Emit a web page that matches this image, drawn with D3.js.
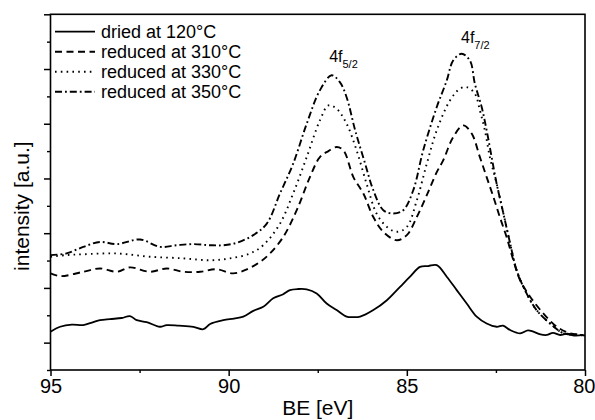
<!DOCTYPE html>
<html>
<head>
<meta charset="utf-8">
<script src="https://d3js.org/d3.v7.min.js"></script>
<style>
  body { margin: 0; background: #fff; }
  svg { display: block; font-family: "Liberation Sans", Arial, sans-serif; }
</style>
</head>
<body>
<svg id="chart" width="595" height="420"></svg>
<script>
// ---- data (BE [eV], intensity [a.u.]) ----
const seriesNames = ["dried at 120°C", "reduced at 310°C", "reduced at 330°C", "reduced at 350°C"];

const dried120 = [
  [95.0,1.40],[94.73,1.58],[94.4,1.66],[94.08,1.64],[93.8,1.75],[93.61,1.82],[93.33,1.86],[93.0,1.90],
  [92.77,1.97],[92.58,1.82],[92.3,1.75],[91.93,1.58],[91.74,1.64],[91.4,1.62],[90.99,1.58],[90.71,1.49],
  [90.52,1.68],[90.15,1.82],[89.85,1.88],[89.59,1.95],[89.31,2.16],[89.03,2.31],[88.75,2.62],[88.47,2.77],
  [88.28,2.92],[88.05,2.96],[87.81,2.95],[87.53,2.80],[87.25,2.43],[86.97,2.19],[86.69,1.95],[86.5,1.93],
  [86.31,1.95],[85.94,2.19],[85.56,2.55],[85.19,3.04],[84.91,3.41],[84.63,3.77],[84.4,3.80],[84.16,3.83],
  [83.88,3.41],[83.60,2.92],[83.32,2.43],[83.04,1.95],[82.76,1.70],[82.48,1.58],[82.3,1.62],[82.10,1.46],
  [81.82,1.34],[81.6,1.45],[81.45,1.40],[81.25,1.30],[81.07,1.28],[80.9,1.36],[80.70,1.28],[80.5,1.33],
  [80.3,1.26],[80.05,1.28]
];

const red310 = [
  [95.0,3.53],[94.73,3.43],[94.08,3.59],[93.61,3.71],[93.14,3.59],[92.77,3.75],[92.21,3.59],[91.74,3.71],
  [91.27,3.59],[90.80,3.59],[90.34,3.68],[89.87,3.53],[89.49,3.68],[89.12,3.95],[88.84,4.26],[88.47,4.86],
  [88.09,5.84],[87.72,7.05],[87.44,7.78],[87.2,8.0],[86.97,8.15],[86.78,8.03],[86.50,7.05],[86.22,6.45],
  [85.94,5.59],[85.66,5.05],[85.28,4.74],[85.00,4.93],[84.72,5.59],[84.44,6.39],[84.16,7.23],[83.98,7.66],
  [83.70,8.51],[83.42,8.94],[83.18,8.64],[82.95,7.78],[82.76,7.05],[82.57,6.32],[82.39,5.59],[82.20,4.86],
  [82.01,4.01],[81.82,3.28],[81.54,2.68],[81.17,2.07],[80.79,1.58],[80.42,1.34],[80.05,1.28]
];

const red330 = [
  [95.0,4.14],[94.55,4.20],[94.08,4.23],[93.14,4.26],[92.21,4.14],[91.27,4.08],[90.52,4.01],[89.96,4.08],
  [89.40,4.26],[89.03,4.56],[88.56,5.35],[88.19,6.45],[87.81,7.78],[87.44,9.12],[87.20,9.67],[86.97,9.55],
  [86.69,9.00],[86.41,8.03],[86.13,6.81],[85.85,5.72],[85.56,5.23],[85.28,5.05],[85.00,5.23],[84.72,6.20],
  [84.44,7.54],[84.16,8.76],[83.79,9.85],[83.51,10.28],[83.32,10.34],[83.09,10.10],[82.95,9.49],[82.81,8.76],
  [82.67,7.78],[82.48,6.81],[82.29,5.72],[82.10,4.62],[81.92,3.65],[81.64,2.80],[81.36,2.19],[80.98,1.70],
  [80.60,1.34],[80.14,1.28],[80.0,1.24]
];

const red350 = [
  [95.0,4.20],[94.55,4.26],[94.08,4.50],[93.61,4.68],[93.14,4.60],[92.49,4.77],[91.93,4.50],[91.46,4.56],
  [90.99,4.60],[90.52,4.56],[90.15,4.56],[89.77,4.65],[89.31,4.93],[88.93,5.35],[88.56,6.45],[88.19,7.54],
  [87.81,9.00],[87.44,10.22],[87.11,10.77],[86.88,10.52],[86.69,9.97],[86.45,8.76],[86.17,7.54],[85.94,6.57],
  [85.66,5.84],[85.38,5.72],[85.10,5.84],[84.82,6.57],[84.54,8.03],[84.16,9.61],[83.88,10.58],[83.70,11.31],
  [83.46,11.56],[83.23,11.31],[83.09,10.46],[82.90,9.61],[82.76,8.76],[82.62,7.78],[82.48,6.81],[82.29,5.72],
  [82.10,4.62],[81.92,3.65],[81.64,2.80],[81.36,2.19],[80.98,1.70],[80.60,1.34],[80.14,1.28],[80.0,1.26]
];

const xTickLabels = [95, 90, 85, 80];
const xMinorTicks = [92.5, 87.5, 82.5];
const yMajorTicks = [1, 3, 5, 7, 9, 11, 13];
const yMinorTicks = [0, 2, 4, 6, 8, 10, 12];
const peakLabels = [
  { be: 87.18, main: "4f", sub: "5/2", top: 11.25 },
  { be: 83.48, main: "4f", sub: "7/2", top: 11.95 }
];

// ---- layout ----
const svg = d3.select("#chart");
const x = d3.scaleLinear().domain([95, 80]).range([50.5, 585]);
const y = d3.scaleLinear().domain([0, 13]).range([370, 14.3]);

const styles = [
  { dash: null, width: 1.8 },
  { dash: "7,4.5", width: 1.9 },
  { dash: "1.6,4.2", width: 1.9 },
  { dash: "7,3,1.8,3", width: 1.9 }
];
const allSeries = [dried120, red310, red330, red350];

// frame
const g = svg.append("g");
g.append("rect")
  .attr("x", x(95)).attr("y", y(13))
  .attr("width", x(80) - x(95)).attr("height", y(0) - y(13))
  .attr("fill", "none").attr("stroke", "#000").attr("stroke-width", 1.6);

// x axis
const xAxis = d3.axisBottom(x).tickValues(xTickLabels).tickSize(6).tickPadding(3).tickFormat(d3.format("d"));
const xa = g.append("g").attr("transform", `translate(0,${y(0)})`).call(xAxis);
xa.select(".domain").remove();
xa.selectAll("line").attr("stroke", "#000").attr("stroke-width", 1.5);
xa.selectAll("text").attr("font-size", 20).attr("fill", "#000")
  .attr("font-family", "Liberation Sans, Arial, sans-serif")
  .attr("dx", d => d === 80 ? -2 : 0)
  .attr("text-anchor", d => d === 80 ? "end" : "middle")
  .attr("x", d => d === 80 ? 12 : 0);
const xMinor = d3.axisBottom(x).tickValues(xMinorTicks).tickSize(3).tickFormat("");
const xm = g.append("g").attr("transform", `translate(0,${y(0)})`).call(xMinor);
xm.select(".domain").remove();
xm.selectAll("line").attr("stroke", "#000").attr("stroke-width", 1.4);

// y axis (no labels)
const yAxis = d3.axisLeft(y).tickValues(yMajorTicks).tickSize(6.5).tickFormat("");
const ya = g.append("g").attr("transform", `translate(${x(95)},0)`).call(yAxis);
ya.select(".domain").remove();
ya.selectAll("line").attr("stroke", "#000").attr("stroke-width", 1.5);
const yMinor = d3.axisLeft(y).tickValues(yMinorTicks).tickSize(3.5).tickFormat("");
const ym = g.append("g").attr("transform", `translate(${x(95)},0)`).call(yMinor);
ym.select(".domain").remove();
ym.selectAll("line").attr("stroke", "#000").attr("stroke-width", 1.4);

// axis titles
svg.append("text").attr("x", (x(95) + x(80)) / 2).attr("y", 415)
  .attr("text-anchor", "middle").attr("font-size", 21).text("BE [eV]");
svg.append("text").attr("transform", `translate(29,${(y(0)+y(13))/2 + 14}) rotate(-90)`)
  .attr("text-anchor", "middle").attr("font-size", 21).text("intensity [a.u.]");

// curves
const line = d3.line().x(d => x(d[0])).y(d => y(d[1])).curve(d3.curveCatmullRom.alpha(0.5));
svg.append("clipPath").attr("id", "clip").append("rect")
  .attr("x", x(95)).attr("y", y(13)).attr("width", x(80) - x(95)).attr("height", y(0) - y(13));
allSeries.forEach((s, i) => {
  svg.append("path").datum(s)
    .attr("d", line)
    .attr("fill", "none").attr("stroke", "#000")
    .attr("stroke-width", styles[i].width)
    .attr("stroke-dasharray", styles[i].dash)
    .attr("stroke-linejoin", "round")
    .attr("clip-path", "url(#clip)");
});

// legend
const leg = svg.append("g");
seriesNames.forEach((name, i) => {
  const cy = 31.7 + i * 20;
  leg.append("line").attr("x1", 55).attr("x2", 95).attr("y1", cy).attr("y2", cy)
    .attr("stroke", "#000").attr("stroke-width", styles[i].width)
    .attr("stroke-dasharray", styles[i].dash);
  leg.append("text").attr("x", 101).attr("y", cy + 6)
    .attr("font-size", 18).attr("fill", "#000").text(name);
});

// peak labels
peakLabels.forEach(p => {
  const t = svg.append("text").attr("x", x(p.be)).attr("y", y(p.top))
    .attr("font-size", 16).attr("fill", "#000");
  t.append("tspan").text(p.main);
  t.append("tspan").attr("font-size", 11).attr("dy", 6).text(p.sub);
});
</script>
</body>
</html>
